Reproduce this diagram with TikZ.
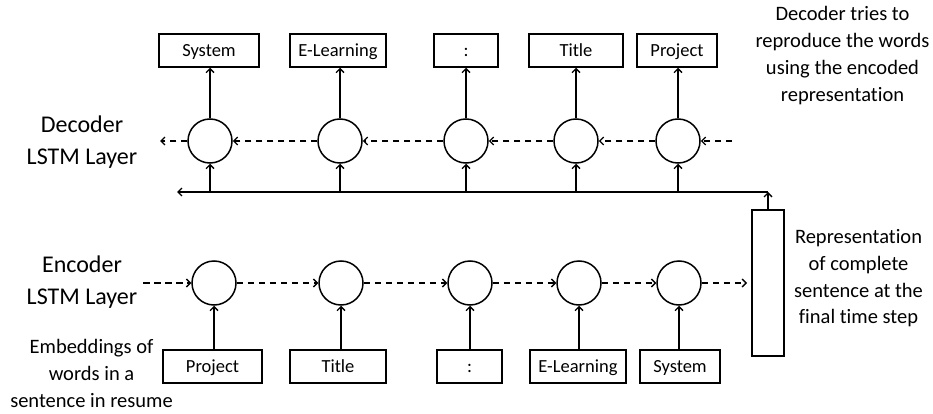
\documentclass[tikz,border=0pt]{standalone}
\usepackage{fontspec}
\setmainfont[RawFeature=-liga]{Carlito}
\usetikzlibrary{arrows.meta}
\tikzset{
  cell/.style={circle,draw,line width=1.5pt,minimum size=44pt,inner sep=0pt},
  word/.style={draw,line width=1.5pt,minimum height=33pt,inner sep=0pt,
               text height=14pt,text depth=2pt,
               font=\fontsize{18.5}{22}\selectfont},
  repbox/.style={draw,line width=1.5pt,minimum width=32pt,minimum height=146pt,inner sep=0pt},
  flow/.style={line width=1.5pt,-{Straight Barb[length=4pt,width=8pt,line width=1.3pt]}},
  state/.style={flow,dash pattern=on 6.5pt off 4.5pt},
  layerlabel/.style={align=center,font=\fontsize{24}{31.5}\selectfont},
  note/.style={align=center,font=\fontsize{20.5}{26.7}\selectfont},
}
\begin{document}
\begin{tikzpicture}[x=1pt,y=-1pt]
\useasboundingbox (0,0) rectangle (933,414);

% decoder outputs
\node[word,minimum width=100pt] (do1) at (209,50.5) {System};
\node[word,minimum width=96pt]  (do2) at (338,50.5) {E-Learning};
\node[word,minimum width=64pt]  (do3) at (466,50.5) {:};
\node[word,minimum width=94pt]  (do4) at (576,50.5) {Title};
\node[word,minimum width=80pt]  (do5) at (677,50.5) {Project};

% decoder cells
\node[cell] (d1) at (210,141) {};
\node[cell] (d2) at (340,141) {};
\node[cell] (d3) at (466,141) {};
\node[cell] (d4) at (576,141) {};
\node[cell] (d5) at (678,141) {};

% encoder cells
\node[cell] (e1) at (214,283) {};
\node[cell] (e2) at (341,283) {};
\node[cell] (e3) at (470,283) {};
\node[cell] (e4) at (579,283) {};
\node[cell] (e5) at (679,283) {};

% encoder inputs
\node[word,minimum width=99pt] (ei1) at (212.5,366.5) {Project};
\node[word,minimum width=96pt] (ei2) at (338,366.5) {Title};
\node[word,minimum width=65pt] (ei3) at (469.5,366.5) {:};
\node[word,minimum width=96pt] (ei4) at (578,366.5) {E-Learning};
\node[word,minimum width=80pt] (ei5) at (680,366.5) {System};

% final encoder state
\node[repbox] (rep) at (768,283) {};

% text labels
\node[layerlabel] (declab) at (82,142) {Decoder\\LSTM Layer};
\node[layerlabel] (enclab) at (82,282) {Encoder\\LSTM Layer};
\node[note] (emblab) at (91.5,373.5) {Embeddings of\\words in a\\sentence in resume};
\node[note] (tries) at (842.5,55.5) {Decoder tries to\\reproduce the words\\using the encoded\\representation};
\node[note] (replab) at (858.5,278.5) {Representation\\of complete\\sentence at the\\final time step};

% free ends of the recurrent arrows and the bus
\coordinate (dleft) at (160,141);
\coordinate (dright) at (732,141);
\coordinate (eleft) at (143,283);
\coordinate (eright) at (747,283);
\coordinate (busR) at (768,192);
\coordinate (busL) at (177,192);

% decoder: outputs
\foreach \i in {1,...,5}
  \draw[flow] (d\i.north) -- (d\i.north |- do\i.south);

% decoder: recurrence (right to left)
\draw[state] (dright) -- (d5.east);
\draw[state] (d5.west) -- (d4.east);
\draw[state] (d4.west) -- (d3.east);
\draw[state] (d3.west) -- (d2.east);
\draw[state] (d2.west) -- (d1.east);
\draw[state] (d1.west) -- (dleft);

% representation fed to every decoder cell
\draw[flow] (rep.north) -- (busR);
\draw[flow] (busR) -- (busL);
\foreach \i in {1,...,5}
  \draw[flow] (d\i.south |- busR) -- (d\i.south);

% encoder: inputs
\foreach \i in {1,...,5}
  \draw[flow] (e\i.south |- ei\i.north) -- (e\i.south);

% encoder: recurrence (left to right)
\draw[state] (eleft) -- (e1.west);
\draw[state] (e1.east) -- (e2.west);
\draw[state] (e2.east) -- (e3.west);
\draw[state] (e3.east) -- (e4.west);
\draw[state] (e4.east) -- (e5.west);
\draw[state] (e5.east) -- (eright);
\end{tikzpicture}
\end{document}
